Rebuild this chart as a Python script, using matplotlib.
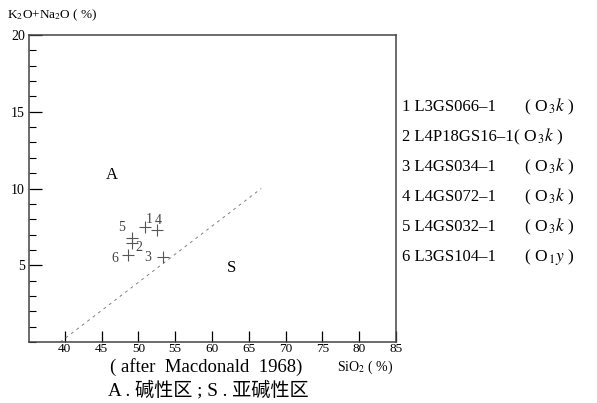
import matplotlib
matplotlib.use("Agg")
import matplotlib.pyplot as plt
from matplotlib.ticker import MultipleLocator

plt.rcParams['font.family'] = ['Liberation Serif', 'Noto Sans CJK SC', 'DejaVu Sans']
plt.rcParams['mathtext.fontset'] = 'stix'

# sample points (SiO2, K2O+Na2O)
labels = ["1", "2", "3", "4", "5", "6"]
sio2 = [50.9, 49.2, 53.4, 52.6, 49.2, 48.6]
alk = [7.50, 6.48, 5.54, 7.28, 6.78, 5.65]

# Macdonald (1968) dividing line
line_x = [39.4, 66.7]
line_y = [0.0, 10.0]

samples = ["L3GS066–1", "L4P18GS16–1", "L4GS034–1", "L4GS072–1", "L4GS032–1", "L3GS104–1"]
ages = ["( O$_{\\,3}k$ )", "( O$_{\\,3}k$ )", "( O$_{\\,3}k$ )", "( O$_{\\,3}k$ )",
        "( O$_{\\,3}k$ )", "( O$_{\\,1}y$ )"]

# label offsets in pixels (dx, dy) for the point numbers
lab_off = [(4, 7), (6, -5), (-16, -1), (1, 10), (-11, 10), (-13, -3)]

W, H = 597, 403
fig = plt.figure(figsize=(W / 100, H / 100), dpi=100)
ax = fig.add_axes([29 / W, 1 - 342 / H, 367 / W, 307 / H])

ax.plot(line_x, line_y, color='#808080', lw=0.7, ls=(0, (3, 4)))
ax.plot(sio2, alk, ls='none', marker='+', ms=8, mew=0.8, color='#555555')
for lab, x, y, (dx, dy) in zip(labels, sio2, alk, lab_off):
    ax.annotate(lab, (x, y), xytext=(dx * 0.72, dy * 0.72), textcoords='offset points',
                ha='center', va='center', fontsize=10, color='#444444')

ax.text(46.4, 10.85, "A", fontsize=12, ha='center', va='center')
ax.text(62.6, 4.8, "S", fontsize=12, ha='center', va='center')

ax.set_xlim(35.15, 85)
ax.set_ylim(0, 20)
ax.set_xticks(range(40, 86, 5))
ax.set_yticks([5, 10, 15, 20])
ax.yaxis.set_minor_locator(MultipleLocator(1))
ax.tick_params(axis='x', direction='in', length=8, width=0.9, pad=1, labelsize=9.5)
ax.tick_params(axis='y', which='major', direction='in', length=9.5, width=0.9, pad=3, labelsize=10)
ax.tick_params(axis='y', which='minor', direction='in', length=5, width=0.8)
for s in ax.spines.values():
    s.set_color('#444444')
    s.set_linewidth(1.1)

fig.text(7 / W, 1 - 15 / H, "K$_2$O+Na$_2$O ( %)", fontsize=9.5, va='center')
fig.text(337 / W, 1 - 367 / H, "SiO$_2$ ( %)", fontsize=10, va='center')
fig.text(110 / W, 1 - 367 / H, "( after  Macdonald  1968)", fontsize=13.5, va='center')
fig.text(108 / W, 1 - 390 / H, "A . 碱性区 ; S . 亚碱性区", fontsize=13.8, va='center')

paren_x = [524, 513, 524, 524, 524, 524]
for i, (lab, name, age) in enumerate(zip(labels, samples, ages)):
    y = 1 - (107 + 30 * i) / H
    fig.text(402 / W, y, lab + " " + name, fontsize=12, va='center')
    fig.text(paren_x[i] / W, y, age, fontsize=12.5, va='center')

fig.savefig("out.png", dpi=100)
